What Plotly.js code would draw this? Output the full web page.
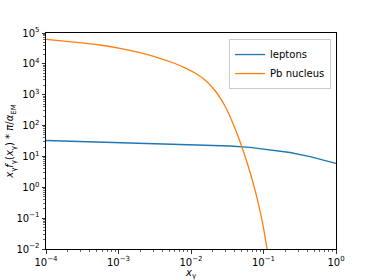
<!DOCTYPE html>
<html>
<head>
<meta charset="utf-8">
<script src="https://cdn.plot.ly/plotly-3.0.1.min.js"></script>
<style>html,body{margin:0;padding:0;background:#fff;}#chart{width:374px;height:280px;}</style>
</head>
<body>
<div id="chart"></div>
<script>
// Data
var leptonX = [1e-4, 9.8e-4, 8.8e-3, 0.0345, 0.0651, 0.123, 0.232, 0.438, 0.826, 1.0];
var leptonY = [32.8, 27.9, 24.3, 21.8, 19.6, 16.6, 13.4, 9.94, 6.95, 5.98];

var pbX = [1e-4, 5.56e-4, 1.05e-3, 1.98e-3, 3.73e-3, 6.01e-3, 8.26e-3, 0.01135, 0.0156, 0.0214, 0.0294, 0.0345, 0.0405, 0.0474, 0.0651, 0.0806, 0.0993, 0.1106, 0.113];
var pbY = [62400, 40800, 31900, 23000, 15100, 10260, 7450, 5050, 2990, 1370, 430, 197, 80.3, 30.4, 3.13, 0.496, 0.0528, 0.0119, 0.0095];

var xTickVals = [1e-4, 1e-3, 1e-2, 1e-1, 1];
var xTickText = ['10<sup>\u22124</sup>', '10<sup>\u22123</sup>', '10<sup>\u22122</sup>', '10<sup>\u22121</sup>', '10<sup>0</sup>'];
var yTickVals = [1e-2, 1e-1, 1, 10, 100, 1e3, 1e4, 1e5];
var yTickText = ['10<sup>\u22122</sup>', '10<sup>\u22121</sup>', '10<sup>0</sup>', '10<sup>1</sup>', '10<sup>2</sup>', '10<sup>3</sup>', '10<sup>4</sup>', '10<sup>5</sup>'];

function minorVals(lo, hi) {
  var out = [];
  for (var e = lo; e < hi; e++) {
    for (var m = 2; m <= 9; m++) out.push(m * Math.pow(10, e));
  }
  return out;
}

var font = {family: 'DejaVu Sans, sans-serif', size: 10, color: '#000'};

var traces = [
  {x: leptonX, y: leptonY, mode: 'lines', name: 'leptons', line: {color: '#1f77b4', width: 1.3, shape: 'linear'}},
  {x: pbX, y: pbY, mode: 'lines', name: 'Pb nucleus', line: {color: '#ff7f0e', width: 1.3, shape: 'spline', smoothing: 0.7}}
];

var layout = {
  width: 374, height: 280,
  margin: {l: 46, r: 38, t: 33, b: 31},
  paper_bgcolor: '#fff', plot_bgcolor: '#fff',
  font: font,
  showlegend: true,
  legend: {x: 0.983, y: 0.972, xanchor: 'right', yanchor: 'top', bgcolor: 'rgba(255,255,255,0.8)', bordercolor: '#cccccc', borderwidth: 1, font: {family: 'DejaVu Sans, sans-serif', size: 10, color: '#000'}, tracegroupgap: 0},
  xaxis: {
    type: 'log', range: [-4, 0], showgrid: false, zeroline: false,
    showline: true, mirror: true, linecolor: '#000', linewidth: 1,
    ticks: 'outside', ticklen: 3.5, tickwidth: 0.8, tickcolor: '#000',
    tickmode: 'array', tickvals: xTickVals, ticktext: xTickText,
    tickfont: font,
    minor: {ticks: 'outside', ticklen: 2, tickwidth: 0.6, tickcolor: '#000', tickmode: 'array', tickvals: minorVals(-4, 0), showgrid: false},
    title: {text: '<i>x</i><sub>\u03b3</sub>', font: {family: 'DejaVu Sans, sans-serif', size: 10, color: '#000'}, standoff: 2}
  },
  yaxis: {
    type: 'log', range: [-2, 5], showgrid: false, zeroline: false,
    showline: true, mirror: true, linecolor: '#000', linewidth: 1,
    ticks: 'outside', ticklen: 3.5, tickwidth: 0.8, tickcolor: '#000',
    tickmode: 'array', tickvals: yTickVals, ticktext: yTickText,
    tickfont: font,
    minor: {ticks: 'outside', ticklen: 2, tickwidth: 0.6, tickcolor: '#000', tickmode: 'array', tickvals: minorVals(-2, 5), showgrid: false},
    title: {text: '<i>x</i><sub>\u03b3</sub><i>f</i><sub>\u03b3</sub>(<i>x</i><sub>\u03b3</sub>) * <i>\u03c0</i>/<i>\u03b1</i><sub>EM</sub>', font: {family: 'DejaVu Sans, sans-serif', size: 10, color: '#000'}, standoff: 0}
  }
};

Plotly.newPlot('chart', traces, layout, {displayModeBar: false, staticPlot: true});
</script>
</body>
</html>
